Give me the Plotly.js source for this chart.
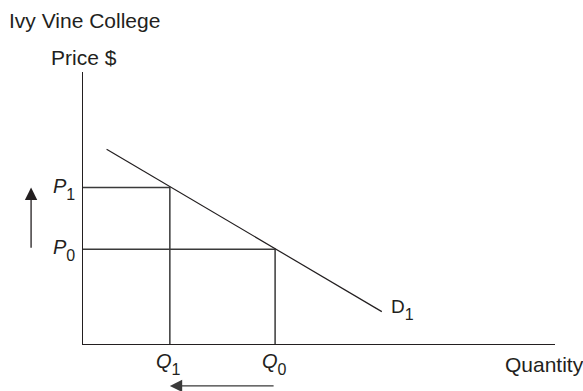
<!DOCTYPE html>
<html>
<head>
<meta charset="utf-8">
<script src="https://cdn.plot.ly/plotly-3.0.1.min.js"></script>
<style>html,body{margin:0;padding:0;background:#fff;}#chart{width:583px;height:391px;}</style>
</head>
<body>
<div id="chart"></div>
<script>
// Quantities and prices (axis units 0..10)
const qLabels = ['Q', 'Q'];
const pLabels = ['P', 'P'];
const labelSubs = ['1', '0'];        // subscripts: index 0 -> "1" (new), index 1 -> "0" (initial)
const qVals = [1.84, 4.07];          // Q1, Q0
const pVals = [5.75, 3.48];          // P1, P0
const demandQ = [0.50, 6.33];
const demandP = [7.16, 1.19];
const demandName = 'D';
const demandSub = '1';
const titleText = 'Ivy Vine College';
const yTitle = 'Price $';
const xTitle = 'Quantity';

const FONT = '"Liberation Sans", Arial, Helvetica, sans-serif';
const INK = '#231f20';
const GUIDE = '#3a3a3a';

// 16px subscript with a slightly deeper drop than a single <sub>
const sub = (s) => '<sub><sub><span style="font-size:16px">' + s + '</span></sub></sub>';

const traces = [];
// guides for each price/quantity pair
for (let i = 0; i < qVals.length; i++) {
  traces.push({
    x: [0, qVals[i], qVals[i]],
    y: [pVals[i], pVals[i], 0],
    mode: 'lines',
    line: {color: GUIDE, width: 1.5},
    hoverinfo: 'skip',
    showlegend: false
  });
}
// demand curve
traces.push({
  x: demandQ,
  y: demandP,
  mode: 'lines',
  line: {color: INK, width: 1.2},
  hoverinfo: 'skip',
  showlegend: false
});

const annotations = [];
const f = (s) => ({family: FONT, size: s, color: INK});
// price labels
for (let i = 0; i < pVals.length; i++) {
  annotations.push({
    xref: 'paper', x: -0.013, xanchor: 'right',
    yref: 'y', y: pVals[i], yanchor: 'middle', yshift: -1,
    text: '<i>' + pLabels[i] + '</i>' + sub(labelSubs[i]), showarrow: false, font: f(20)
  });
}
// quantity labels
for (let i = 0; i < qVals.length; i++) {
  annotations.push({
    xref: 'x', x: qVals[i], xanchor: 'center', xshift: -1,
    yref: 'paper', y: -0.05, yanchor: 'top', yshift: 10,
    text: '<i>' + qLabels[i] + '</i>' + sub(labelSubs[i]), showarrow: false, font: f(20)
  });
}
// demand label
annotations.push({
  xref: 'x', x: demandQ[1], xanchor: 'left', xshift: 7,
  yref: 'y', y: demandP[1], yanchor: 'middle', yshift: 2,
  text: demandName + sub(demandSub), showarrow: false, font: f(19)
});
// axis titles
annotations.push({
  xref: 'paper', x: 0.003, xanchor: 'center',
  yref: 'paper', y: 1.055, yanchor: 'middle',
  text: yTitle, showarrow: false, font: f(21)
});
annotations.push({
  xref: 'paper', x: 0.8898, xanchor: 'left',
  yref: 'paper', y: -0.076, yanchor: 'middle',
  text: xTitle, showarrow: false, font: f(21)
});
// price rise arrow (P0 -> P1)
annotations.push({
  xref: 'paper', x: -0.110, yref: 'y', y: pVals[0],
  axref: 'pixel', ax: 0, ayref: 'y', ay: pVals[1],
  text: '', showarrow: true, arrowhead: 2, arrowsize: 1.9, arrowwidth: 1.3,
  arrowcolor: INK, standoff: 0
});
// quantity fall arrow (Q0 -> Q1)
annotations.push({
  xref: 'x', x: qVals[0], yref: 'paper', y: -0.154,
  axref: 'x', ax: qVals[1], ayref: 'pixel', ay: 0,
  text: '', showarrow: true, arrowhead: 2, arrowsize: 1.9, arrowwidth: 1.3,
  arrowcolor: GUIDE, standoff: 0
});

const axisBase = {
  range: [0, 10], showline: true, linecolor: INK, linewidth: 1.3,
  showgrid: false, zeroline: false, ticks: '', showticklabels: false, fixedrange: true
};

const layout = {
  width: 583, height: 391,
  margin: {l: 83, r: 28, t: 72, b: 47},
  paper_bgcolor: '#fff', plot_bgcolor: '#fff',
  title: {text: titleText, xref: 'container', x: 9/583, xanchor: 'left',
          yref: 'container', y: 1 - 21/391, yanchor: 'middle', font: f(21)},
  xaxis: Object.assign({}, axisBase),
  yaxis: Object.assign({}, axisBase),
  annotations: annotations,
  showlegend: false
};

Plotly.newPlot('chart', traces, layout, {displayModeBar: false, staticPlot: true});
</script>
</body>
</html>
